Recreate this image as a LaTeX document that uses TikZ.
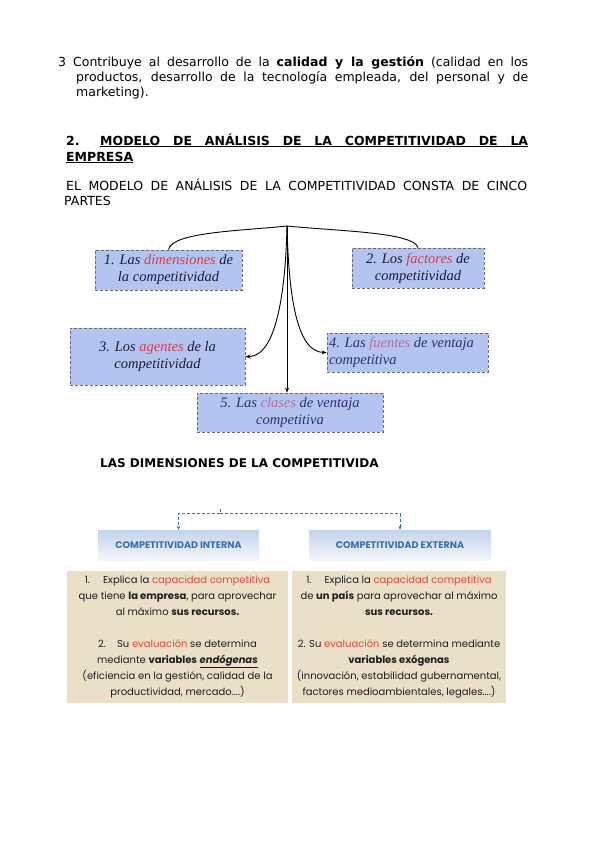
\documentclass[tikz,border=0pt]{standalone}
\usepackage{fontspec}
\setmainfont{DejaVu Sans}
\newfontfamily\serifbox{Liberation Serif}
\newfontfamily\gothic{Poppins}
\usetikzlibrary{arrows.meta}
\definecolor{boxblue}{HTML}{B4C4F0}
\definecolor{redA}{HTML}{D83A4A}
\definecolor{pinkA}{HTML}{B070A0}
\definecolor{navyA}{HTML}{1A1A38}
\definecolor{navyB}{HTML}{2E3070}
\definecolor{hdrblue}{HTML}{3C6EB4}
\definecolor{beige}{HTML}{EAE0C8}
\definecolor{redB}{HTML}{E8453C}
\definecolor{bordergray}{HTML}{6A6A70}
\definecolor{gtext}{HTML}{1E1E1E}
\definecolor{HdrTop}{HTML}{C4D3EA}
\definecolor{HdrBot}{HTML}{F2F6FB}
\tikzset{
  txt/.style={inner sep=0pt,anchor=base west,font=\fontsize{12.5}{15}\selectfont},
  partbox/.style={draw=bordergray,dash pattern=on 3pt off 2pt,line width=0.8pt,fill=boxblue,inner sep=2pt,align=center,
     font=\serifbox\itshape\fontsize{14.5}{17}\selectfont,text=navyA},
  conn/.style={draw=black,line width=0.9pt},
  tip/.style={-{Stealth[length=5pt,width=4pt]}},
  hdrbox/.style={top color=HdrTop,bottom color=HdrBot,draw=none,font=\gothic\bfseries\fontsize{9.6}{11}\selectfont,text=hdrblue},
  beigebox/.style={fill=beige,draw=none,align=center,text=gtext,inner xsep=1pt,font=\gothic\fontsize{10}{16}\selectfont},
  dconn/.style={draw=hdrblue,line width=1pt,dash pattern=on 3pt off 2pt},
}
\begin{document}
\begin{tikzpicture}[x=1pt,y=-1pt]
\useasboundingbox[fill=white] (0,0) rectangle (599,848);

% --- top paragraph
\node[txt] (p1) at (58,67) {\makebox[470pt][s]{3 Contribuye al desarrollo de la \textbf{calidad y la gestión} (calidad en los}};
\node[txt] (p2) at (76,82) {\makebox[452pt][s]{productos, desarrollo de la tecnología empleada, del personal y de}};
\node[txt] (p3) at (76,97) {marketing).};

% --- heading
\node[txt] (h0) at (66,145) {\bfseries 2.};
\node[txt] (h1) at (100,145) {\bfseries\underline{\makebox[428pt][s]{MODELO DE ANÁLISIS DE LA COMPETITIVIDAD DE LA}}};
\node[txt] (h2) at (66,161) {\bfseries\underline{EMPRESA}};

\node[txt] (s1) at (66,190) {\makebox[461pt][s]{EL MODELO DE ANÁLISIS DE LA COMPETITIVIDAD CONSTA DE CINCO}};
\node[txt] (s2) at (64,205) {PARTES};

% --- five parts diagram
\node[partbox,minimum width=147pt,minimum height=40pt] (b1) at (168.5,270)
  {1. Las \textcolor{redA}{dimensiones} de\\la competitividad};
\node[partbox,minimum width=132pt,minimum height=40pt] (b2) at (418,268)
  {2. Los \textcolor{redA}{factores} de\\competitividad};
\node[partbox,minimum width=175pt,minimum height=57pt] (b3) at (157.5,356.5)
  {3. Los \textcolor{redA}{agentes} de la\\competitividad};
\node[partbox,minimum width=161pt,minimum height=39pt,text=navyB,align=flush left,text width=157pt] (b4) at (407.5,352.5)
  {4. Las \textcolor{pinkA}{fuentes} de ventaja\\competitiva};
\node[partbox,minimum width=186pt,minimum height=39pt,text=navyB] (b5) at (290,412.5)
  {5. Las \textcolor{pinkA}{clases} de ventaja\\competitiva};

\coordinate (R) at (287,226);
\draw[conn] (R) .. controls (240,231) and (172,232) .. (b1.north);
\draw[conn] (R) .. controls (335,231) and (414,232) .. (b2.north);
\draw[conn,tip] (R) .. controls (285,310) and (272,357) .. (b3.east);
\draw[conn,tip] (R) .. controls (289,310) and (300,352) .. (b4.west);
\draw[conn,tip] (R) -- (R |- b5.north);

% --- dimensions
\node[inner sep=0pt,anchor=base west,font=\bfseries\fontsize{12}{14}\selectfont] (t2) at (100,467) {LAS DIMENSIONES DE LA COMPETITIVIDA};

\node[hdrbox,minimum width=161pt,minimum height=30pt] (ci) at (178.5,545) {COMPETITIVIDAD INTERNA};
\node[hdrbox,minimum width=182pt,minimum height=30pt] (ce) at (400,545) {COMPETITIVIDAD EXTERNA};

\coordinate (dtop) at (220,509);
\coordinate (dmid) at (220,513.5);
\draw[dconn] (dtop) -- (dmid);
\draw[dconn,-{Stealth[length=4pt,width=3.5pt]}] (dmid) -| (ci.north);
\draw[dconn,-{Stealth[length=4pt,width=3.5pt]}] (dmid) -| (ce.north);

\node[beigebox,minimum width=221pt,minimum height=132pt] (li) at (177.5,637)
  {1.\hspace{1.3em}Explica la \textcolor{redB}{capacidad competitiva}\\
   que tiene \textbf{la empresa}, para aprovechar\\
   al máximo \textbf{sus recursos.}\\[16pt]
   2.\hspace{1.1em}Su \textcolor{redB}{evaluación} se determina\\
   mediante \textbf{variables} \underline{\textbf{\textit{endógenas}}}\\
   (eficiencia en la gestión, calidad de la\\
   productividad, mercado....)};
\node[beigebox,minimum width=214pt,minimum height=132pt] (le) at (399,637)
  {1.\hspace{1.3em}Explica la \textcolor{redB}{capacidad competitiva}\\
   de \textbf{un país} para aprovechar al máximo\\
   \textbf{sus recursos.}\\[16pt]
   2. Su \textcolor{redB}{evaluación} se determina mediante\\
   \textbf{variables exógenas}\\
   (innovación, estabilidad gubernamental,\\
   factores medioambientales, legales....)};
\end{tikzpicture}
\end{document}
